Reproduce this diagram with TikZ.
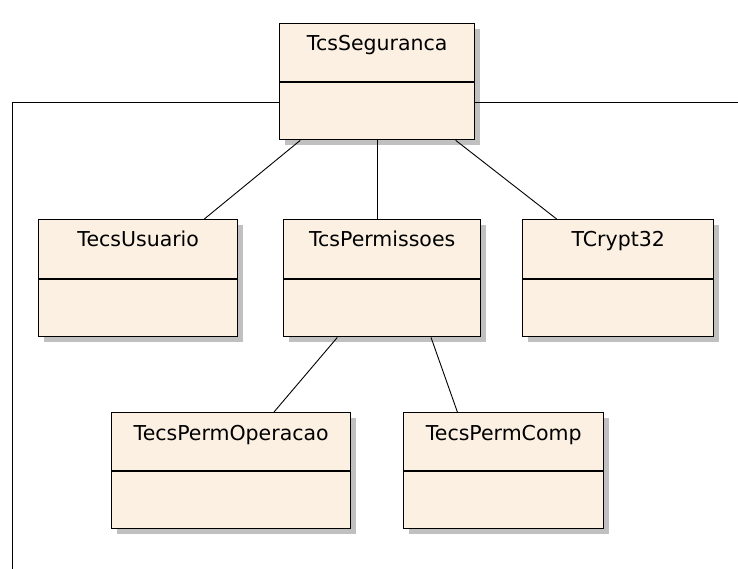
\documentclass[tikz,border=0pt]{standalone}
\usepackage{fontspec}
\setmainfont{DejaVu Sans}
\usetikzlibrary{calc,shadows}
\definecolor{clsfill}{RGB}{251,240,226}
\definecolor{clsshadow}{RGB}{192,192,192}
\tikzset{
  cls/.style={draw=black, line width=1.4pt, fill=clsfill, anchor=north west,
    inner sep=0pt,
    drop shadow={shadow xshift=5pt, shadow yshift=-5pt, fill=clsshadow, opacity=1}},
  conn/.style={draw=black, line width=0.9pt},
  clsname/.style={anchor=base, font=\fontsize{20.5}{24}\selectfont, inner sep=0pt},
}
% class box: name, x, y (top-left), width, height, divider offset, title
\newcommand\umlclass[7]{%
  \node[cls, minimum width=#4pt, minimum height=#5pt] (#1) at (#2,#3) {};
  \draw[line width=1.4pt] ($(#1.north west)+(0,#6)$) -- ($(#1.north east)+(0,#6)$);
  \node[clsname] (#1-name) at ($(#1.north)+(0,28)$) {#7};
}
\begin{document}
\begin{tikzpicture}[x=1pt, y=-1pt]
\useasboundingbox (0,0) rectangle (738,569);

% open-ended links leaving the frame
\coordinate (leftend) at (12,569);
\coordinate (rightend) at (738,102);

\umlclass{seg}{279}{23}{195}{116}{59}{TcsSeguranca}
\umlclass{usr}{38}{219}{199}{117}{60}{TecsUsuario}
\umlclass{perm}{283}{219}{197}{117}{60}{TcsPermissoes}
\umlclass{crypt}{522}{219}{191}{117}{60}{TCrypt32}
\umlclass{op}{111}{412}{239}{116}{59}{TecsPermOperacao}
\umlclass{comp}{403}{412}{200}{116}{59}{TecsPermComp}

\coordinate (segL) at ($(seg.north west)!0.68!(seg.south west)$);
\coordinate (segR) at ($(seg.north east)!0.68!(seg.south east)$);
\draw[conn] (segL) -| (leftend);
\draw[conn] (segR) -- (segR -| rightend);

% associations
\draw[conn] ($(seg.south west)!0.108!(seg.south east)$) -- ($(usr.north west)!0.83!(usr.north east)$);
\draw[conn] (seg.south) -- (seg.south |- perm.north);
\draw[conn] ($(seg.south west)!0.90!(seg.south east)$) -- ($(crypt.north west)!0.18!(crypt.north east)$);
\draw[conn] ($(perm.south west)!0.274!(perm.south east)$) -- ($(op.north west)!0.678!(op.north east)$);
\draw[conn] ($(perm.south west)!0.746!(perm.south east)$) -- ($(comp.north west)!0.27!(comp.north east)$);
\end{tikzpicture}
\end{document}
